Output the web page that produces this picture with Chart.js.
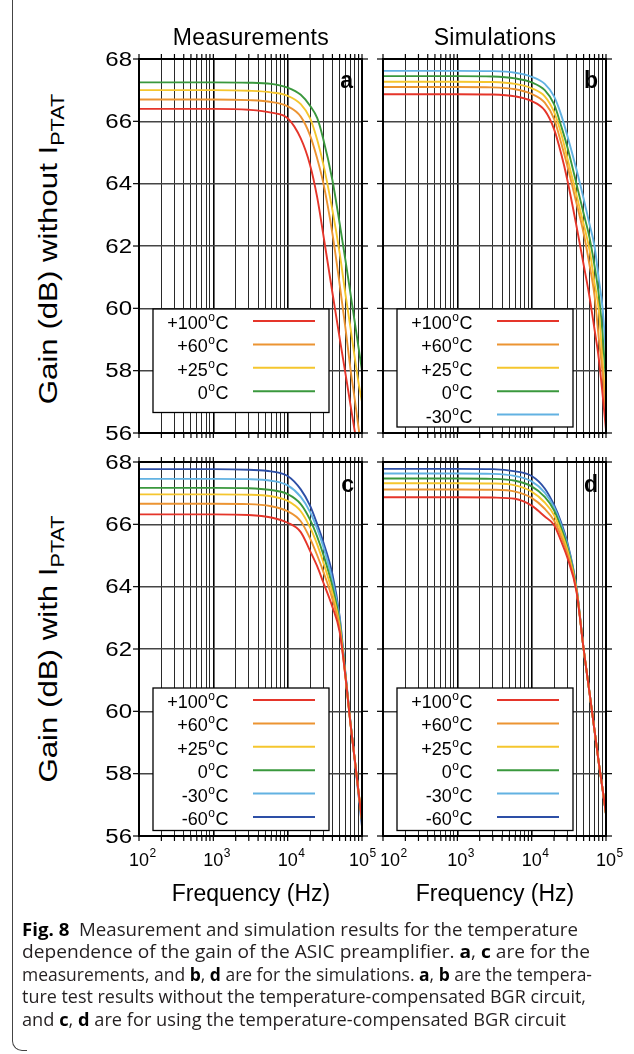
<!DOCTYPE html>
<html>
<head>
<meta charset="utf-8">
<script src="https://cdn.jsdelivr.net/npm/chart.js@4.4.1/dist/chart.umd.min.js"></script>
<style>
  html, body { margin: 0; padding: 0; background: #fff; }
  #fig { position: relative; width: 634px; height: 1054px; overflow: hidden; color: #000;
         font-family: 'Liberation Sans', Arial, Helvetica, sans-serif; }
  canvas { position: absolute; }
  .t { position: absolute; white-space: nowrap; line-height: 1; }
  .ttl { font-size: 23px; width: 240px; text-align: center; }
  .top { letter-spacing: 0.35px; }
  .let { font-size: 23px; font-weight: bold; width: 40px; text-align: right; }
  .ytl { font-size: 26px; width: 420px; height: 26px; line-height: 26px; text-align: center;
         transform: rotate(-90deg) scaleX(1.2); }
  .ytl sub { font-size: 18px; vertical-align: -7px; }
  .cap { font-family: 'Open Sans', 'Noto Sans', sans-serif; font-size: 18.6px; left: 22px; color: #231f20;
         transform-origin: 0 0; }
  .cap b { color: #000; }
  .edge { position: absolute; left: 12px; top: -20px; width: 14px; height: 1070px;
          border-left: 1.3px solid #444; border-bottom: 1.3px solid #444; border-bottom-left-radius: 10px; }
</style>
</head>
<body>
<div id="fig">
  <div class="edge"></div>

  <canvas id="panelA"></canvas>
  <canvas id="panelB"></canvas>
  <canvas id="panelC"></canvas>
  <canvas id="panelD"></canvas>

  <div class="t ttl top" style="left:131px; top:26px;">Measurements</div>
  <div class="t ttl top" style="left:375px; top:26px;">Simulations</div>

  <div class="t let" style="left:313px; top:68.5px;">a</div>
  <div class="t let" style="left:558px; top:68.5px;">b</div>
  <div class="t let" style="left:314px; top:472.5px;">c</div>
  <div class="t let" style="left:558px; top:472.5px;">d</div>

  <div class="t ytl" style="left:-162px; top:236px;">Gain (dB) without I<sub>PTAT</sub></div>
  <div class="t ytl" style="left:-162px; top:636px;">Gain (dB) with I<sub>PTAT</sub></div>

  <div class="t ttl" style="left:131px; top:881.5px;">Frequency (Hz)</div>
  <div class="t ttl" style="left:375px; top:881.5px;">Frequency (Hz)</div>

  <div class="t cap" style="top:919.5px;"><b>Fig. 8</b>&nbsp; Measurement and simulation results for the temperature</div>
  <div class="t cap" style="top:942px;">dependence of the gain of the ASIC preamplifier. <b>a</b>, <b>c</b> are for the</div>
  <div class="t cap" style="top:964.5px;">measurements, and <b>b</b>, <b>d</b> are for the simulations. <b>a</b>, <b>b</b> are the tempera-</div>
  <div class="t cap" style="top:987px;">ture test results without the temperature-compensated BGR circuit,</div>
  <div class="t cap" style="top:1009.5px;">and <b>c</b>, <b>d</b> are for using the temperature-compensated BGR circuit</div>
</div>

<script>
// frequency points (Hz) the curves were read at
const freqHz = [100, 1000, 3000, 6000, 10000, 15000, 20000, 25000, 30000, 40000, 50000, 60000, 70000, 80000, 90000, 100000];

// tick values / labels
const gainTicks = [56, 58, 60, 62, 64, 66, 68];
const decadeTicks = [100, 1000, 10000, 100000];
const decadeExp = ['2', '3', '4', '5'];

// legend labels (temperature, deg C)
const tempLabels = ['+100', '+60', '+25', '0', '-30', '-60'];
const tempColors = ['#e5352a', '#ec9432', '#f5c62e', '#3a983d', '#62b2e2', '#2d4fa6'];

// (a) measurements, without I_PTAT
const measNoPtat100 = [66.40, 66.40, 66.37, 66.28, 66.10, 65.45, 64.60, 63.55, 62.40, 60.50, 59.05, 57.90, 56.90, 56.05, 55.40, 54.80];
const measNoPtat60  = [66.70, 66.70, 66.68, 66.62, 66.48, 66.15, 65.55, 64.80, 64.05, 62.40, 60.78, 59.35, 58.05, 57.07, 56.16, 55.40];
const measNoPtat25  = [67.00, 67.00, 66.98, 66.93, 66.82, 66.55, 66.10, 65.40, 64.65, 63.15, 61.78, 60.44, 59.37, 58.41, 57.60, 57.00];
const measNoPtat0   = [67.25, 67.25, 67.24, 67.20, 67.08, 66.85, 66.50, 66.10, 65.45, 64.11, 62.73, 61.53, 60.47, 59.55, 58.73, 58.00];

// (b) simulations, without I_PTAT
const simNoPtat100 = [66.87, 66.87, 66.86, 66.80, 66.65, 66.35, 65.75, 64.95, 64.15, 62.65, 61.40, 60.37, 59.33, 58.39, 57.23, 56.10];
const simNoPtat60  = [67.10, 67.10, 67.09, 67.03, 66.88, 66.60, 66.08, 65.30, 64.60, 63.38, 62.41, 61.39, 60.42, 59.04, 57.90, 56.50];
const simNoPtat25  = [67.27, 67.27, 67.26, 67.20, 67.06, 66.80, 66.30, 65.60, 64.85, 63.65, 62.70, 61.88, 60.82, 59.94, 58.28, 56.90];
const simNoPtat0   = [67.45, 67.45, 67.44, 67.38, 67.25, 67.00, 66.55, 65.84, 65.20, 64.00, 63.04, 62.27, 61.37, 60.43, 59.16, 57.60];
const simNoPtatM30 = [67.62, 67.62, 67.61, 67.56, 67.43, 67.20, 66.80, 66.20, 65.56, 64.46, 63.52, 62.70, 62.00, 60.94, 60.00, 58.50];

// (c) measurements, with I_PTAT
const measPtat100 = [66.32, 66.32, 66.30, 66.22, 66.05, 65.75, 65.15, 64.65, 64.15, 63.35, 62.55, 61.10, 59.60, 58.45, 57.40, 56.50];
const measPtat60  = [66.66, 66.66, 66.65, 66.58, 66.42, 66.10, 65.55, 65.00, 64.50, 63.60, 62.65, 61.10, 59.60, 58.45, 57.40, 56.50];
const measPtat25  = [66.96, 66.96, 66.95, 66.90, 66.75, 66.42, 65.90, 65.35, 64.80, 63.80, 62.75, 61.10, 59.60, 58.45, 57.40, 56.50];
const measPtat0   = [67.17, 67.17, 67.16, 67.10, 66.97, 66.65, 66.15, 65.60, 65.05, 64.00, 62.85, 61.15, 59.62, 58.45, 57.40, 56.50];
const measPtatM30 = [67.46, 67.46, 67.45, 67.40, 67.25, 66.88, 66.40, 65.85, 65.30, 64.20, 62.95, 61.15, 59.62, 58.45, 57.35, 56.45];
const measPtatM60 = [67.77, 67.77, 67.75, 67.70, 67.55, 67.12, 66.60, 66.00, 65.45, 64.40, 63.05, 61.20, 59.65, 58.40, 57.30, 56.30];

// (d) simulations, with I_PTAT
const simPtat100 = [66.87, 66.87, 66.86, 66.82, 66.60, 66.25, 65.98, 65.45, 64.95, 63.85, 62.00, 60.60, 59.40, 58.35, 57.50, 56.70];
const simPtat60  = [67.12, 67.12, 67.11, 67.05, 66.85, 66.50, 66.12, 65.60, 65.08, 63.90, 62.00, 60.60, 59.40, 58.35, 57.50, 56.70];
const simPtat25  = [67.32, 67.32, 67.31, 67.25, 67.05, 66.70, 66.30, 65.75, 65.20, 63.92, 62.00, 60.60, 59.40, 58.35, 57.50, 56.70];
const simPtat0   = [67.47, 67.47, 67.46, 67.40, 67.22, 66.88, 66.45, 65.88, 65.30, 63.95, 62.00, 60.60, 59.40, 58.35, 57.50, 56.70];
const simPtatM30 = [67.63, 67.63, 67.62, 67.55, 67.38, 67.02, 66.55, 65.97, 65.38, 63.98, 62.00, 60.60, 59.40, 58.35, 57.50, 56.70];
const simPtatM60 = [67.78, 67.78, 67.77, 67.70, 67.55, 67.15, 66.62, 66.05, 65.45, 64.00, 62.00, 60.60, 59.40, 58.35, 57.50, 56.70];

const FONT = "'Liberation Sans', Arial, Helvetica, sans-serif";

// grid lines at 1..9 x 10^n
const xGrid = [];
for (let e = 2; e < 5; e++) {
  for (let m = 1; m < 10; m++) xGrid.push(m * Math.pow(10, e));
}
xGrid.push(100000);
const isDecade = v => decadeTicks.includes(v);

// frame, outer ticks, tick labels and legend box
const panelDecor = {
  id: 'panelDecor',
  afterDatasetsDraw(chart, args, opts) {
    const { ctx, chartArea: ca, scales } = chart;
    const seg = (x1, y1, x2, y2) => { ctx.beginPath(); ctx.moveTo(x1, y1); ctx.lineTo(x2, y2); ctx.stroke(); };
    ctx.save();
    ctx.strokeStyle = '#000';
    ctx.lineWidth = 1.2;
    scales.x.ticks.forEach(t => {
      const x = scales.x.getPixelForValue(t.value);
      seg(x, ca.top - 5, x, ca.top);
      seg(x, ca.bottom, x, ca.bottom + 5);
    });
    scales.y.ticks.forEach(t => {
      const y = scales.y.getPixelForValue(t.value);
      seg(ca.left - 6, y, ca.left, y);
      seg(ca.right, y, ca.right + 6, y);
    });
    ctx.lineWidth = 2;
    ctx.strokeRect(ca.left, ca.top, ca.width, ca.height);

    // gain labels (a bit wide, like the original)
    if (opts.yLabels) {
      ctx.fillStyle = '#000';
      ctx.font = '20px ' + FONT;
      ctx.textAlign = 'right';
      ctx.textBaseline = 'middle';
      scales.y.ticks.forEach(t => {
        const y = scales.y.getPixelForValue(t.value);
        ctx.save();
        ctx.translate(ca.left - 7, y + 1);
        ctx.scale(1.2, 1);
        ctx.fillText(String(t.value), 0, 0);
        ctx.restore();
      });
    }

    // legend
    const bx = ca.left + 14, by = ca.top + opts.legendTop;
    ctx.fillStyle = '#fff';
    ctx.fillRect(bx, by, 176, opts.legendH);
    ctx.strokeStyle = '#000';
    ctx.lineWidth = 1.3;
    ctx.strokeRect(bx, by, 176, opts.legendH);
    ctx.textBaseline = 'alphabetic';
    chart.data.datasets.forEach((ds, i) => {
      const cy = by + 12 + i * 23.4;
      const right = bx + 75.5;
      ctx.fillStyle = '#000';
      ctx.textAlign = 'left';
      ctx.font = '18px ' + FONT;
      const wC = ctx.measureText('C').width;
      ctx.fillText('C', right - wC, cy + 8);
      ctx.font = '12px ' + FONT;
      const wo = ctx.measureText('o').width;
      ctx.fillText('o', right - wC - wo - 0.5, cy);
      ctx.font = '18px ' + FONT;
      ctx.textAlign = 'right';
      ctx.fillText(ds.label, right - wC - wo - 1, cy + 8);
      ctx.strokeStyle = ds.borderColor;
      ctx.lineWidth = 2;
      seg(bx + 100, cy, bx + 162, cy);
    });

    // 10^n labels under the bottom panels
    if (opts.xShift) {
      ctx.fillStyle = '#000';
      ctx.textAlign = 'left';
      decadeTicks.forEach((v, i) => {
        const x = scales.x.getPixelForValue(v) + opts.xShift[i];
        ctx.font = '18px ' + FONT;
        const w1 = ctx.measureText('10').width;
        ctx.fillText('10', x - w1 / 2, ca.bottom + 30);
        ctx.font = '12px ' + FONT;
        ctx.fillText(decadeExp[i], x + w1 / 2 + 0.5, ca.bottom + 21);
      });
    }
    ctx.restore();
  }
};

const PL = 60, PT = 12, PR = 24;

function makePanel(id, left, top, series, yLabels, xShift, legendTop, legendH) {
  const W = 223, H = 374;
  const PB = xShift ? 48 : 12;
  const canvas = document.getElementById(id);
  canvas.width = W + PL + PR;
  canvas.height = H + PT + PB;
  canvas.style.left = (left - PL) + 'px';
  canvas.style.top = (top - PT) + 'px';
  canvas.style.width = canvas.width + 'px';
  canvas.style.height = canvas.height + 'px';

  const datasets = series.map((vals, i) => ({
    label: tempLabels[i],
    data: freqHz.map((f, k) => ({ x: f, y: vals[k] })),
    borderColor: tempColors[i],
    borderWidth: 1.9,
    pointRadius: 0,
    cubicInterpolationMode: 'monotone',
    clip: 0
  }));

  return new Chart(canvas.getContext('2d'), {
    type: 'line',
    data: { datasets },
    options: {
      responsive: false,
      animation: false,
      devicePixelRatio: 1,
      layout: { autoPadding: false, padding: { top: PT, right: PR, left: 0, bottom: 0 } },
      plugins: {
        legend: { display: false },
        tooltip: { enabled: false },
        panelDecor: { yLabels, xShift, legendTop, legendH }
      },
      scales: {
        x: {
          type: 'logarithmic',
          min: 100,
          max: 100000,
          afterBuildTicks: s => { s.ticks = xGrid.map(v => ({ value: v, major: isDecade(v) })); },
          afterFit: s => { s.height = PB; },
          ticks: { display: false },
          border: { display: false },
          grid: {
            drawTicks: false,
            color: c => (c.tick && isDecade(c.tick.value)) ? '#000' : '#2a2a2a',
            lineWidth: c => (c.tick && isDecade(c.tick.value)) ? 1.6 : 1
          }
        },
        y: {
          type: 'linear',
          min: 56,
          max: 68,
          afterBuildTicks: s => { s.ticks = gainTicks.map(v => ({ value: v })); },
          afterFit: s => { s.width = PL; },
          ticks: { display: false },
          border: { display: false },
          grid: { drawTicks: false, color: '#444', lineWidth: 1.5 }
        }
      }
    },
    plugins: [panelDecor]
  });
}

makePanel('panelA', 139, 59, [measNoPtat100, measNoPtat60, measNoPtat25, measNoPtat0], true, null, 250, 103.5);
makePanel('panelB', 383, 59, [simNoPtat100, simNoPtat60, simNoPtat25, simNoPtat0, simNoPtatM30], false, null, 250, 118);
makePanel('panelC', 139, 462, [measPtat100, measPtat60, measPtat25, measPtat0, measPtatM30, measPtatM60], true, [0, 0, 0, -3], 226, 142.5);
makePanel('panelD', 383, 462, [simPtat100, simPtat60, simPtat25, simPtat0, simPtatM30, simPtatM60], false, [7, 0, 0, 0], 226, 142.5);

// caption lines: fit each line to the width it has in the original
const capWidths = [556, 568, 570, 564, 544];
function fitCaption() {
  document.querySelectorAll('.cap').forEach((el, i) => {
    el.style.transform = 'none';
    const w = el.getBoundingClientRect().width;
    el.style.transform = 'scaleX(' + (capWidths[i] / w).toFixed(4) + ')';
  });
}
fitCaption();
if (document.fonts && document.fonts.ready) document.fonts.ready.then(fitCaption);
</script>
</body>
</html>
